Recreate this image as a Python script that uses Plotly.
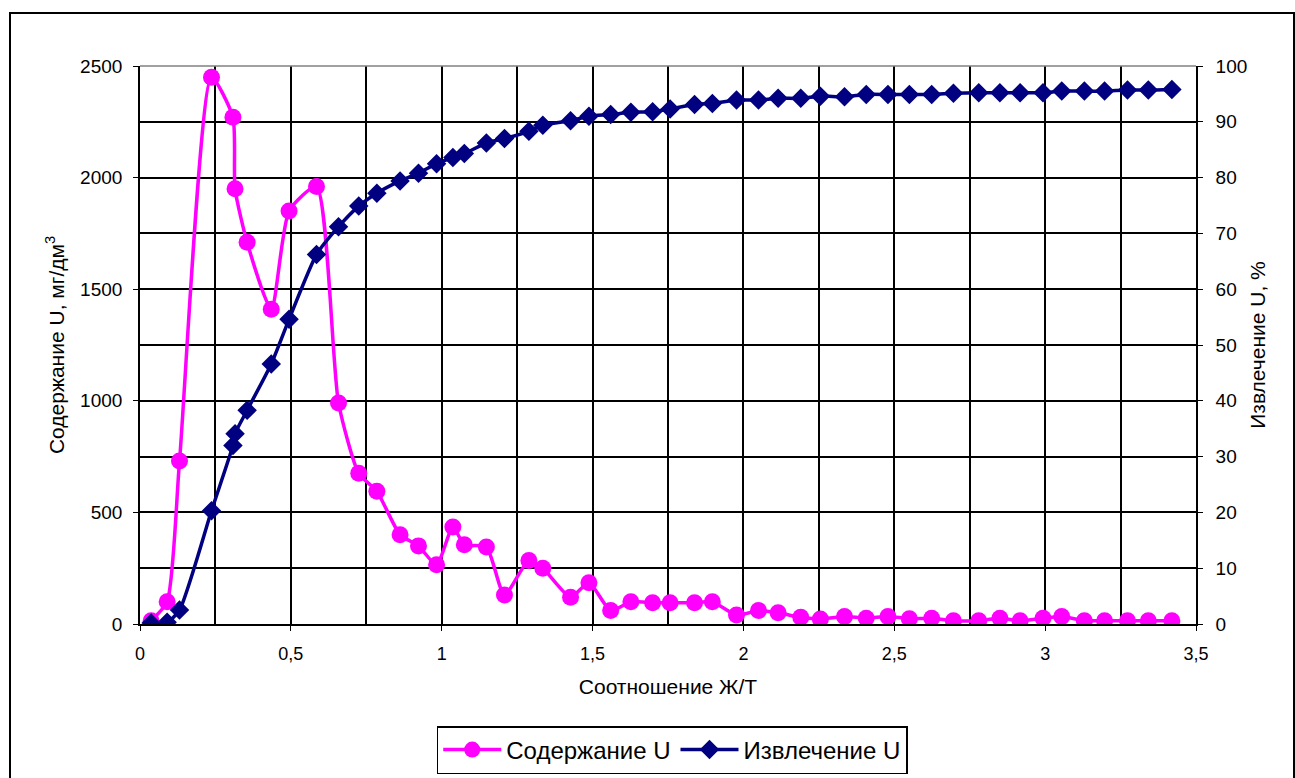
import plotly.graph_objects as go

# Shared x values: ratio Ж/Т
ratio = [0.037, 0.09, 0.131, 0.237, 0.308, 0.315, 0.355, 0.435, 0.494, 0.585,
         0.658, 0.725, 0.785, 0.862, 0.923, 0.983, 1.037, 1.075, 1.148, 1.208,
         1.289, 1.335, 1.427, 1.488, 1.56, 1.627, 1.699, 1.757, 1.838, 1.897,
         1.977, 2.05, 2.115, 2.19, 2.255, 2.335, 2.407, 2.479, 2.55, 2.624,
         2.696, 2.78, 2.85, 2.917, 2.993, 3.055, 3.13, 3.197, 3.273, 3.342, 3.42]

# Содержание U, мг/дм3
content_u = [15, 100, 730, 2450, 2270, 1950, 1710, 1410, 1850, 1960,
             990, 675, 595, 400, 350, 265, 435, 355, 345, 130,
             285, 250, 120, 185, 60, 100, 95, 95, 95, 100,
             40, 60, 50, 30, 22, 34, 26, 34, 24, 26,
             15, 15, 26, 15, 26, 34, 15, 15, 15, 15, 15]

# Извлечение U, %
recovery_u = [0.2, 0.3, 2.5, 20.3, 32.0, 34.1, 38.3, 46.6, 54.6, 66.2,
              71.2, 74.9, 77.2, 79.4, 80.8, 82.5, 83.6, 84.3, 86.2, 87.0,
              88.3, 89.4, 90.2, 91.0, 91.3, 91.7, 91.8, 92.3, 93.1, 93.3,
              93.9, 93.9, 94.2, 94.2, 94.6, 94.5, 94.9, 94.9, 94.9, 94.9,
              95.1, 95.2, 95.2, 95.2, 95.2, 95.5, 95.5, 95.5, 95.7, 95.7, 95.8]

FONT = "Arial, Liberation Sans, sans-serif"

fig = go.Figure()
fig.add_trace(go.Scatter(
    x=ratio, y=content_u, name="Содержание U", mode="lines+markers",
    line=dict(color="#FF00FF", width=3.5, shape="spline", smoothing=0.6),
    marker=dict(symbol="circle", size=17, color="#FF00FF"),
    yaxis="y"))
fig.add_trace(go.Scatter(
    x=ratio, y=recovery_u, name="Извлечение U", mode="lines+markers",
    line=dict(color="#000080", width=3.5, shape="spline", smoothing=0.6),
    marker=dict(symbol="diamond", size=15, color="#000080"),
    yaxis="y2"))

L, R, T, B = 140, 99, 66, 154
W, H = 1295, 778
pw, ph = W - L - R, H - T - B

def px(xp):
    return (xp - L) / pw

def py(yp):
    return (H - B - yp) / ph

GRID = dict(gridcolor="black", gridwidth=1.6)

fig.update_layout(
    width=W, height=H, autosize=False,
    margin=dict(l=L, r=R, t=T, b=B, autoexpand=False),
    paper_bgcolor="white", plot_bgcolor="white",
    separators=",.",
    font=dict(family=FONT, size=18, color="black"),
    showlegend=True,
    legend=dict(orientation="h", x=0.504, xanchor="center", y=py(750), yanchor="middle",
                bordercolor="black", borderwidth=1.5, bgcolor="white",
                font=dict(family=FONT, size=24, color="black"),
                itemwidth=58, traceorder="normal", tracegroupgap=0),
    xaxis=dict(range=[0, 3.5], dtick=0.5, tick0=0, showgrid=True, **GRID,
               minor=dict(dtick=0.25, showgrid=True, ticks="", **GRID),
               showline=True, linecolor="black", linewidth=1.6, automargin=False,
               ticks="outside", ticklen=5, tickcolor="black", ticklabelstandoff=8,
               zeroline=False, tickfont=dict(size=18),
               title=dict(text="Соотношение Ж/Т", font=dict(size=21), standoff=16)),
    yaxis=dict(range=[0, 2500], dtick=500, showgrid=True, **GRID,
               minor=dict(dtick=250, showgrid=True, ticks="", **GRID),
               showline=True, linecolor="black", linewidth=1.6, automargin=False,
               ticks="outside", ticklen=5, tickcolor="black", ticklabelstandoff=7,
               zeroline=False, tickfont=dict(size=19),
               title=dict(text="Содержание U, мг/дм<sup>3</sup>", font=dict(size=21), standoff=10)),
    yaxis2=dict(range=[0, 100], dtick=10, overlaying="y", side="right", showgrid=False,
                showline=True, linecolor="black", linewidth=1.6, automargin=False,
                ticks="outside", ticklen=5, tickcolor="black", ticklabelstandoff=9,
                zeroline=False, tickfont=dict(size=19),
                title=dict(text="Извлечение U, %", font=dict(size=21), standoff=4)),
    shapes=[
        dict(type="line", xref="paper", yref="paper", x0=0, x1=1, y0=1, y1=1,
             line=dict(color="#808080", width=1.6)),
        dict(type="rect", xref="paper", yref="paper", x0=px(10), x1=px(1294),
             y0=py(790), y1=py(13), line=dict(color="black", width=2), layer="below"),
    ],
)

fig.write_html("out.html")
